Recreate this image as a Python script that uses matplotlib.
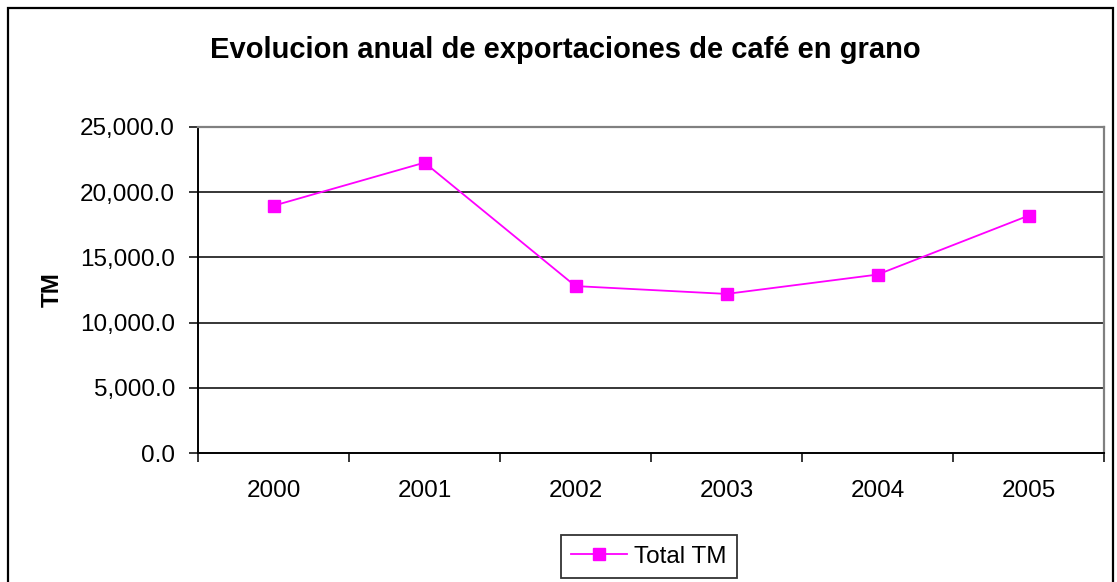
import matplotlib.pyplot as plt
from matplotlib.patches import Rectangle
from matplotlib.ticker import FuncFormatter

plt.rcParams['font.family'] = ['Liberation Sans', 'DejaVu Sans']

# datos
years = ['2000', '2001', '2002', '2003', '2004', '2005']
total_tm = [18950, 22250, 12800, 12200, 13680, 18190]
y_ticks = [0, 5000, 10000, 15000, 20000, 25000]

W, H = 1117, 582
fig = plt.figure(figsize=(W / 100, H / 100), dpi=100)

# marco exterior del grafico (estilo Excel)
fig.patches.append(Rectangle((8 / W, -0.05), (1113 - 8) / W, 1.05 - 8 / H,
                             transform=fig.transFigure, fill=False,
                             edgecolor='black', linewidth=1.6))

left, right = 198, 1104
top, bottom = 126.7, 453.3
ax = fig.add_axes([left / W, 1 - bottom / H, (right - left) / W, (bottom - top) / H])

x = list(range(len(years)))
ax.plot(x, total_tm, color='#FF00FF', lw=1.3, marker='s', markersize=8.5,
        markeredgecolor='#FF00FF', label='Total TM', clip_on=False, zorder=3)

ax.set_xlim(-0.5, len(years) - 0.5)
ax.set_ylim(y_ticks[0], y_ticks[-1])

# lineas de division
for v in y_ticks[1:-1]:
    ax.axhline(v, color='black', lw=1.1, zorder=1)

ax.set_yticks(y_ticks)
ax.yaxis.set_major_formatter(FuncFormatter(lambda v, p: f'{v:,.1f}'))
ax.tick_params(axis='y', length=6.5, width=1.1, pad=10, labelsize=17.5, direction='out')

# ticks en los limites de categorias, etiquetas en el centro
ax.set_xticks([i - 0.5 for i in range(len(years) + 1)])
ax.set_xticklabels([])
ax.set_xticks(x, minor=True)
ax.set_xticklabels(years, minor=True)
ax.tick_params(axis='x', which='major', length=6.5, width=1.1, direction='out')
ax.tick_params(axis='x', which='minor', length=0, pad=19, labelsize=17.5)

ax.spines['left'].set_color('black')
ax.spines['bottom'].set_color('black')
ax.spines['left'].set_linewidth(1.4)
ax.spines['bottom'].set_linewidth(1.4)
ax.spines['top'].set_color('#808080')
ax.spines['right'].set_color('#808080')
ax.spines['top'].set_linewidth(1.6)
ax.spines['right'].set_linewidth(1.6)

fig.text(52 / W, 1 - 290 / H, 'TM', rotation=90, ha='center', va='center',
         fontsize=17.5, fontweight='bold')
fig.text(565 / W, 1 - 50 / H, 'Evolucion anual de exportaciones de café en grano',
         ha='center', va='center', fontsize=21, fontweight='bold')

leg = fig.legend(loc='center', bbox_to_anchor=(649 / W, 1 - 556.5 / H),
                 fontsize=17.5, frameon=True, fancybox=False, edgecolor='black',
                 handlelength=2.3, handletextpad=0.3, borderpad=0.42,
                 borderaxespad=0)
leg.get_frame().set_linewidth(1.3)

fig.savefig('out.png', dpi=100)
